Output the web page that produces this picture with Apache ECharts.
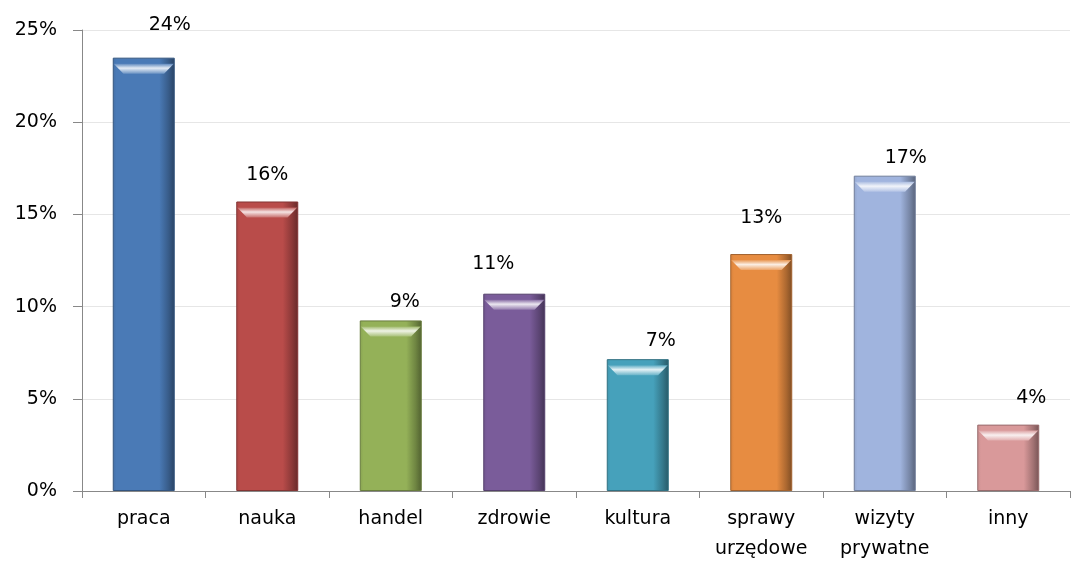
<!DOCTYPE html>
<html>
<head>
<meta charset="utf-8">
<script src="https://cdn.jsdelivr.net/npm/echarts@6/dist/echarts.min.js"></script>
<style>
    html, body { margin: 0; padding: 0; background: #fff; }
    #main { width: 1085px; height: 569px; }
</style>
</head>
<body>
<div id="main"></div>
<script>
// dane z wykresu
const categories = ['praca', 'nauka', 'handel', 'zdrowie', 'kultura', 'sprawy\nurzędowe', 'wizyty\nprywatne', 'inny']
const values = [23.5, 15.7, 9.25, 10.7, 7.15, 12.85, 17.1, 3.6]
const valueLabels = ['24%', '16%', '9%', '11%', '7%', '13%', '17%', '4%']
const colors = ['#4a7ab6', '#b94c4a', '#94b158', '#7a5c9a', '#46a1bb', '#e78c41', '#a0b4de', '#d9999a']

// przesuniecie etykiet jak w oryginale
const labelShift = [[26, -11], [0, -5], [14, 3], [-21, -8], [23, 3], [0, -14], [21, 4], [23, -5]]

let chart = echarts.init(document.getElementById('main'))

function shade(hex, k) {
    let n = parseInt(hex.slice(1), 16)
    let r = (n >> 16) & 255, g = (n >> 8) & 255, b = n & 255
    let f = c => Math.max(0, Math.min(255, Math.round(k < 0 ? c * (1 + k) : c + (255 - c) * k)))
    return 'rgb(' + f(r) + ',' + f(g) + ',' + f(b) + ')'
}

let seriesData = values.map((v, i) => ({
    value: v,
    itemStyle: {
        color: {
            type: 'linear', x: 0, y: 0, x2: 1, y2: 0,
            colorStops: [
                {offset: 0, color: shade(colors[i], -0.08)},
                {offset: 0.06, color: colors[i]},
                {offset: 0.75, color: colors[i]},
                {offset: 0.9, color: shade(colors[i], -0.25)},
                {offset: 1, color: shade(colors[i], -0.45)}
            ]
        },
        borderColor: shade(colors[i], -0.3),
        borderWidth: 1
    },
    label: {
        offset: labelShift[i]
    }
}))

// faza na gorze slupka
let capData = values.map((v, i) => ({
    value: v,
    itemStyle: {
        color: {
            type: 'linear', x: 0, y: 0, x2: 0, y2: 1,
            colorStops: [
                {offset: 0, color: shade(colors[i], 0.1)},
                {offset: 0.45, color: shade(colors[i], 0.85)},
                {offset: 1, color: shade(colors[i], 0.2)}
            ]
        }
    }
}))

let option = {
    animation: false,
    textStyle: {
        fontFamily: '"DejaVu Sans", sans-serif'
    },
    grid: {
        left: 82,
        right: 15,
        top: 30,
        bottom: 78
    },
    xAxis: {
        type: 'category',
        data: categories,
        axisLine: { lineStyle: { color: '#888' } },
        axisTick: { show: true, length: 7, lineStyle: { color: '#888' } },
        axisLabel: {
            color: '#000',
            fontSize: 19,
            margin: 13,
            lineHeight: 30,
            interval: 0
        }
    },
    yAxis: {
        type: 'value',
        min: 0,
        max: 25,
        interval: 5,
        axisLine: { show: true, lineStyle: { color: '#888' } },
        axisTick: { show: true, length: 9, lineStyle: { color: '#888' } },
        axisLabel: {
            color: '#000',
            fontSize: 19,
            margin: 25,
            formatter: '{value}%'
        },
        splitLine: { lineStyle: { color: '#e6e6e6' } }
    },
    series: [
        {
            type: 'bar',
            data: seriesData,
            barWidth: 62,
            label: {
                show: true,
                position: 'top',
                distance: 12,
                color: '#000',
                fontSize: 19,
                formatter: p => valueLabels[p.dataIndex]
            }
        },
        {
            type: 'pictorialBar',
            data: capData,
            symbol: 'path://M0,0 L62,0 L52,10 L10,10 Z',
            symbolSize: [60, 10],
            symbolPosition: 'end',
            symbolOffset: [0, 6],
            symbolKeepAspect: false,
            silent: true,
            z: 3
        }
    ]
}

chart.setOption(option)
</script>
</body>
</html>
